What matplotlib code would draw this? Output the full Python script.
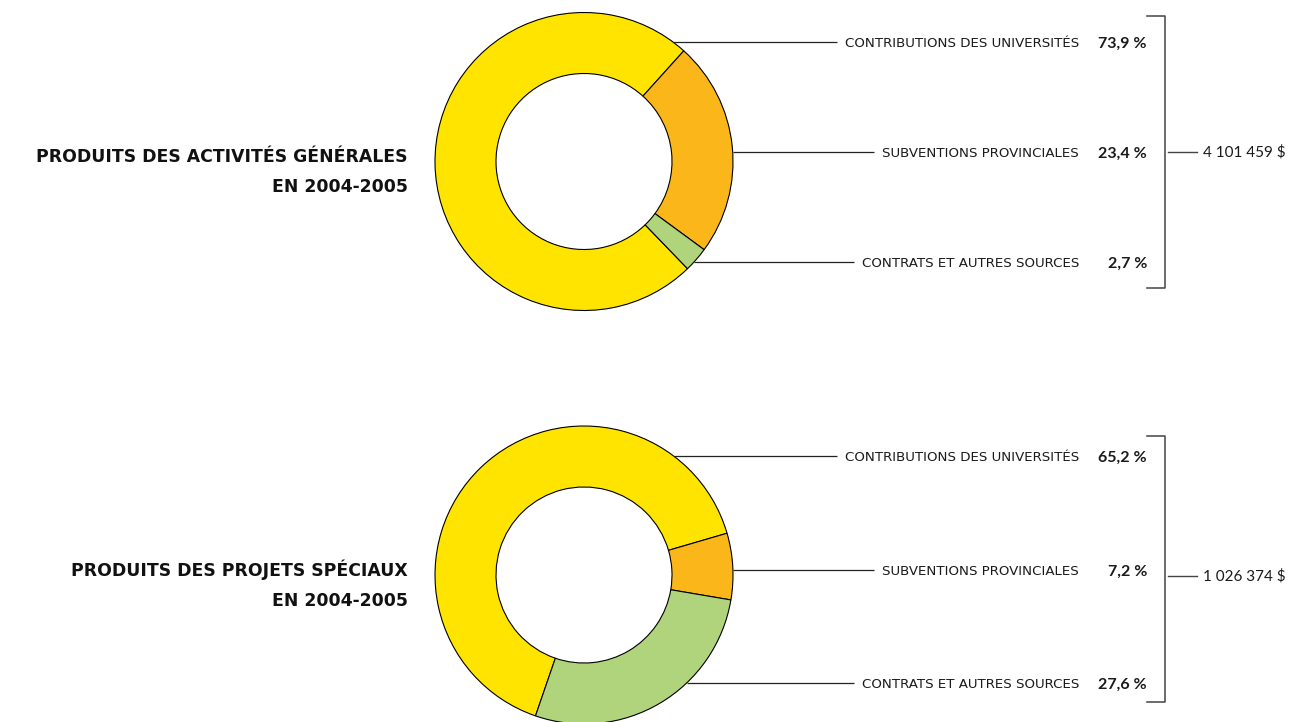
import numpy as np
import matplotlib
matplotlib.use("Agg")
from matplotlib import pyplot as plt

# data
categories = ["CONTRIBUTIONS DES UNIVERSITÉS", "SUBVENTIONS PROVINCIALES", "CONTRATS ET AUTRES SOURCES"]
general_pct = [73.9, 23.4, 2.7]
special_pct = [65.2, 7.2, 27.6]
general_total = "4 101 459 $"
special_total = "1 026 374 $"
titles = [["PRODUITS DES ACTIVITÉS GÉNÉRALES", "EN 2004-2005"],
          ["PRODUITS DES PROJETS SPÉCIAUX", "EN 2004-2005"]]

colors = ["#FFE400", "#FBB719", "#AFD47B"]
W, H = 1297, 722

plt.rcParams['font.family'] = ['Lato', 'DejaVu Sans']

fig = plt.figure(figsize=(W / 100, H / 100), dpi=100)
ax = fig.add_axes([0, 0, 1, 1])


def py(y):
    # pixel row (from top) -> data y
    return H - y


def donut(values, cy, start, label_rows, bracket, total, title):
    cx, r, r_in = 584, 149, 88
    ax.pie(values, colors=colors, radius=r, center=(cx, py(cy)),
           startangle=start, counterclock=False,
           wedgeprops=dict(width=r - r_in, edgecolor='black', linewidth=0.8))
    ax.set_xlim(0, W)
    ax.set_ylim(0, H)
    renderer = fig.canvas.get_renderer()
    for lab, val, y in zip(categories, values, label_rows):
        t = ax.text(1079, py(y + 5), lab, ha='right', va='baseline', fontsize=9.6,
                    family='DejaVu Sans', color='#1a1a1a')
        ax.text(1147, py(y + 6), f"{val:.1f} %".replace('.', ','), ha='right', va='baseline',
                fontsize=11.5, fontweight='bold', color='#1a1a1a')
        bb = t.get_window_extent(renderer)
        x0 = cx + np.sqrt(r ** 2 - (y - cy) ** 2)
        ax.plot([x0, bb.x0 - 8], [py(y), py(y)], color='#222222', lw=0.9, solid_capstyle='butt')
    top, bot, mid = bracket
    ax.plot([1147, 1165, 1165, 1147], [py(top), py(top), py(bot), py(bot)], color='#444444', lw=1.1)
    ax.plot([1168, 1197], [py(mid), py(mid)], color='#444444', lw=1.0)
    ax.text(1203, py(mid + 5), total, ha='left', va='baseline', fontsize=11, color='#1a1a1a')
    ax.text(408, py(title[2]), title[0], ha='right', va='baseline', fontsize=12.4,
            fontweight='bold', family='DejaVu Sans', color='#111111')
    ax.text(408, py(title[2] + 30), title[1], ha='right', va='baseline', fontsize=12.4,
            fontweight='bold', family='DejaVu Sans', color='#111111')


donut(general_pct, 161.5, 314, [42, 152, 262], (16, 288, 152), general_total, titles[0] + [162])
donut(special_pct, 575, 251, [456, 570, 683], (436, 702, 576), special_total, titles[1] + [576])

ax.set_xlim(0, W)
ax.set_ylim(0, H)
ax.set_aspect('equal')
ax.axis('off')

fig.savefig("out.png", dpi=100, facecolor='white')
